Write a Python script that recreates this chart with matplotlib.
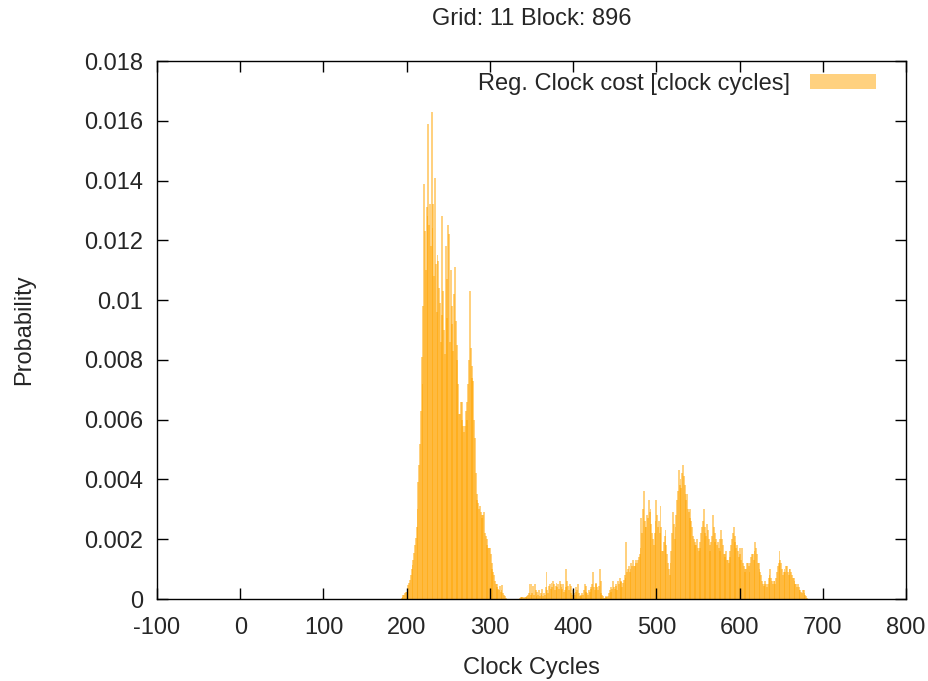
import numpy as np
import matplotlib
matplotlib.use("Agg")
import matplotlib.pyplot as plt

plt.rcParams['font.family'] = ['Liberation Sans', 'DejaVu Sans']

# Histogram of register clock cost, one bin per clock cycle starting at 190.
# Values are probabilities in units of 1e-4.
first_cycle = 190
prob_e4 = [
    0, 0, 0, 0, 0.3, 0.8, 1.2, 1.5, 2.0, 2.3,                 # 190
    2.5, 3.5, 4.7, 5.5, 6.5, 8.0, 10.0, 11.5, 13.0, 15.5,      # 200
    18, 20.5, 24, 30, 39, 45, 52, 63, 81, 72,                  # 210
    98, 139, 123, 110, 131, 128, 159, 125, 132, 118,           # 220
    163, 124, 132, 108, 141, 112, 96, 115, 113, 104,           # 230
    99, 86, 128, 95, 103, 90, 82, 118, 107, 94,                # 240
    125, 122, 86, 110, 92, 98, 83, 102, 111, 93,               # 250
    85, 80, 72, 62, 62, 66, 60, 66, 58, 56,                    # 260
    58, 63, 60, 66, 72, 80, 103, 84, 78, 74,                   # 270
    73, 60, 54, 42, 35, 33, 32, 30, 31, 29,                    # 280
    28, 27, 28, 29, 22, 21, 20, 18, 17, 17,                    # 290
    17, 15, 12, 10, 9, 8, 6, 5, 5, 4,                          # 300
    3.5, 3, 4.5, 2.5, 3, 4.7, 2, 1.5, 1, 0.5,                  # 310
    0, 0, 0, 0, 0, 0, 0, 0, 0, 0,                              # 320
    0, 0, 0, 0, 0, 0, 0.5, 0.7, 0.6, 0.8,                      # 330
    0.7, 0.5, 0.8, 0.6, 0.7, 1.0, 1.5, 2.0, 5.0, 1.5,          # 340
    5.0, 2.0, 4.5, 1.2, 5.0, 3.0, 1.0, 2.5, 1.5, 3.0,          # 350
    1.0, 2.0, 1.2, 3.5, 1.0, 2.0, 1.5, 4.0, 9.0, 3.0,          # 360
    2.0, 4.5, 5.0, 3.5, 5.5, 4.0, 6.0, 5.0, 3.0, 4.5,          # 370
    5.5, 4.0, 5.0, 3.5, 6.0, 5.0, 4.0, 3.5, 5.0, 2.5,          # 380
    3.0, 4.0, 10.0, 6.0, 4.5, 3.0, 5.0, 4.5, 2.0, 1.5,         # 390
    3.0, 2.0, 1.5, 2.5, 4.0, 3.0, 5.0, 2.0, 1.0, 1.5,          # 400
    1.0, 2.0, 1.5, 3.0, 5.0, 2.5, 4.5, 2.0, 1.5, 3.0,          # 410
    2.5, 3.5, 4.0, 5.0, 9.0, 4.0, 3.0, 5.0, 5.5, 4.0,          # 420
    3.0, 4.5, 10.0, 6.0, 2.0, 1.5, 1.0, 0.5, 0.5, 0.8,         # 430
    1.0, 0.8, 1.0, 2.0, 3.0, 2.5, 4.0, 3.5, 6.0, 4.0,          # 440
    3.5, 5, 4.5, 3, 6, 5, 7, 6, 5.8, 4,                        # 450
    5.5, 6.5, 8, 7, 19, 9, 10, 11, 9, 10,                      # 460
    12, 11, 13, 11, 11, 12, 13, 12, 13, 14,                    # 470
    15, 17, 27, 22, 30, 36, 26, 24, 24, 28,                    # 480
    27, 33, 29, 30, 25, 22, 20, 18, 22, 26,                    # 490
    33, 28, 24, 26, 22, 31, 24, 16, 16, 19,                    # 500
    21, 23, 18, 15, 12, 10, 8, 12, 16, 22,                     # 510
    29, 25, 20, 24, 28, 33, 36, 43, 38, 40,                    # 520
    37, 42, 45, 41, 38, 35, 33, 35, 30, 29,                    # 530
    27, 30, 26, 24, 21, 20, 19, 18, 18, 20,                    # 540
    17, 16, 17, 19, 22, 24, 26, 30, 24, 22,                    # 550
    21, 25, 23, 20, 16, 18, 19, 21, 28, 24,                    # 560
    19, 22, 20, 18, 19, 17, 16, 20, 23, 20,                    # 570
    18, 15, 15, 14, 16, 13, 13, 12, 14, 16,                    # 580
    18, 20, 22, 24, 21, 19, 17, 18, 16, 14,                    # 590
    15, 17, 13, 17, 12, 11, 10, 9, 10, 12,                     # 600
    12, 11, 9, 12, 14, 15, 15, 13, 16, 19,                     # 610
    17, 15, 12, 12, 10, 9, 8, 6, 5, 4.5,                       # 620
    5, 6, 5, 4, 5, 7, 8, 10, 7, 6,                             # 630
    5, 6, 6, 5, 7, 9, 11, 12, 16, 13,                          # 640
    12, 10, 8, 9, 10, 9, 11, 11, 9, 8,                         # 650
    10, 10, 9, 8, 7, 7, 6, 5, 5, 4,                            # 660
    5, 4, 3, 3, 2.5, 2, 3, 3, 2, 1.5,                          # 670
    1, 0.5,                                                    # 680
]

x_ticks = [-100, 0, 100, 200, 300, 400, 500, 600, 700, 800]
y_ticks = [0, 0.002, 0.004, 0.006, 0.008, 0.01, 0.012, 0.014, 0.016, 0.018]
y_tick_labels = ["0", "0.002", "0.004", "0.006", "0.008", "0.01",
                 "0.012", "0.014", "0.016", "0.018"]

cycles = np.arange(first_cycle, first_cycle + len(prob_e4))
prob = np.array(prob_e4) * 1e-4

text_color = "#262626"
fs = 17

fig = plt.figure(figsize=(9.29, 6.81), dpi=100)
ax = fig.add_axes([157 / 929, 1 - 599 / 681, (906 - 157) / 929, (599 - 61) / 681])

# Overlapping semi-transparent boxes: dense stretches deepen in colour
ax.bar(cycles, prob, width=2.3, color="orange", alpha=0.5, linewidth=0,
       label="Reg. Clock cost [clock cycles]")

ax.set_xlim(-100, 800)
ax.set_ylim(0, 0.018)
ax.set_xticks(x_ticks)
ax.set_xticklabels([str(t) for t in x_ticks])
ax.set_yticks(y_ticks)
ax.set_yticklabels(y_tick_labels)

ax.tick_params(direction="in", length=8, width=1, top=True, right=True,
               labelsize=fs, color="black", labelcolor=text_color, pad=10)
ax.tick_params(axis="x", pad=13)
for s in ax.spines.values():
    s.set_linewidth(1.0)
    s.set_color("black")

ax.set_xlabel("Clock Cycles", fontsize=fs, labelpad=13, color=text_color)
ax.set_ylabel("Probability", fontsize=fs, labelpad=35, color=text_color)
ax.set_title("Grid: 11 Block: 896", fontsize=fs, pad=26, color=text_color)

leg = ax.legend(loc="upper right", bbox_to_anchor=(0.96, 0.978),
                frameon=False, fontsize=fs, markerfirst=False,
                handlelength=2.8, handleheight=0.55,
                borderaxespad=0.0, borderpad=0.0, handletextpad=0.85)
for t in leg.get_texts():
    t.set_color(text_color)

fig.savefig("out.png", dpi=100)
